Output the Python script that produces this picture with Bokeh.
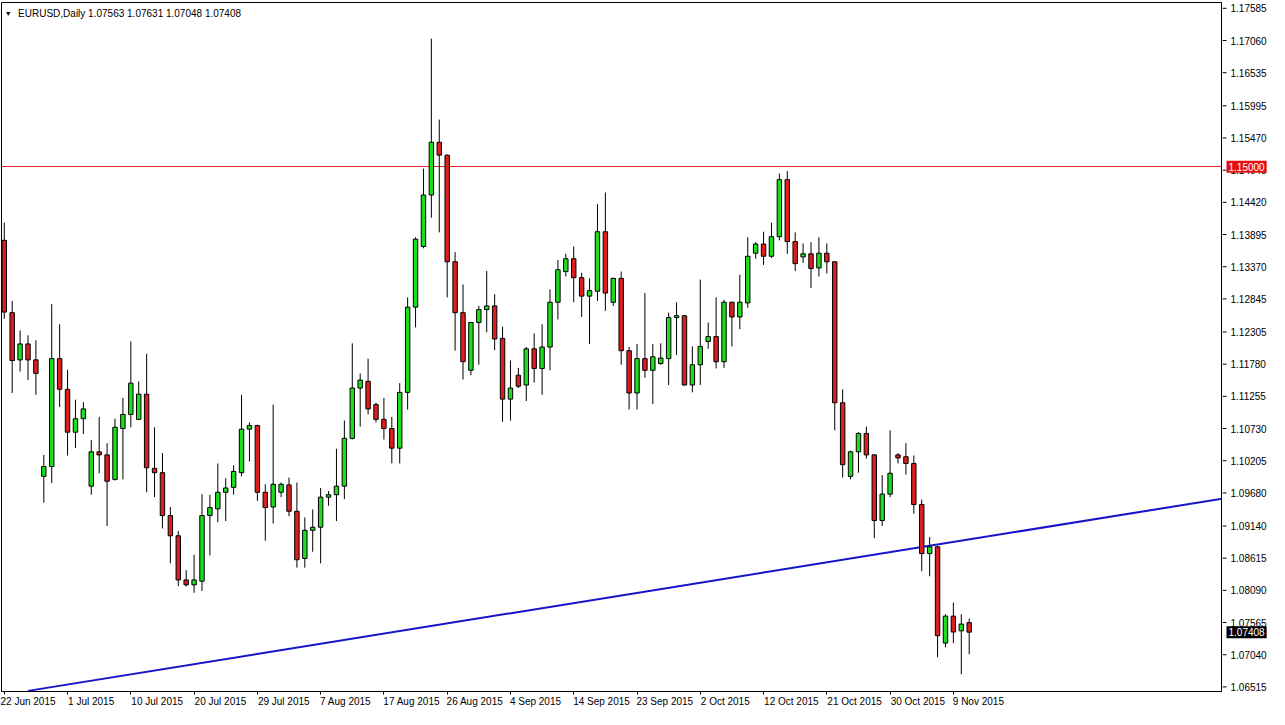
from bokeh.plotting import figure
from bokeh.layouts import row
from bokeh.models import Range1d, FixedTicker, Label
from bokeh.embed import file_html
from bokeh.resources import INLINE

# ---------------- data (EURUSD daily, 22 Jun 2015 - 11 Nov 2015, one bar per trading day incl. Sundays)
open_ = [1.1380, 1.1262, 1.1185, 1.1211, 1.1185, 1.0995, 1.1011, 1.1187, 1.1137, 1.1067,
         1.1089, 1.0979, 1.1035, 1.1030, 1.0990, 1.1073, 1.1096, 1.1088, 1.1129, 1.1008,
         1.1001, 1.0931, 1.0898, 1.0826, 1.0818, 1.0824, 1.0931, 1.0942, 1.0969, 1.0977,
         1.1001, 1.1072, 1.1078, 1.0969, 1.0945, 1.0969, 1.0981, 1.0938, 1.0861, 1.0907,
         1.0912, 1.0961, 1.0965, 1.0979, 1.1057, 1.1139, 1.1150, 1.1112, 1.1088, 1.1073,
         1.1041, 1.1132, 1.1271, 1.1370, 1.1454, 1.1540, 1.1519, 1.1345, 1.1262, 1.1168,
         1.1246, 1.1267, 1.1273, 1.1220, 1.1121, 1.1160, 1.1144, 1.1203, 1.1171, 1.1206,
         1.1279, 1.1329, 1.1350, 1.1319, 1.1289, 1.1297, 1.1394, 1.1279, 1.1318, 1.1200,
         1.1131, 1.1187, 1.1168, 1.1179, 1.1187, 1.1254, 1.1257, 1.1144, 1.1177, 1.1215,
         1.1223, 1.1182, 1.1279, 1.1255, 1.1278, 1.1359, 1.1374, 1.1354, 1.1386, 1.1479,
         1.1378, 1.1353, 1.1358, 1.1335, 1.1359, 1.1345, 1.1115, 1.0995, 1.1035, 1.1065,
         1.1030, 1.0923, 1.0966, 1.1030, 1.1027, 1.1016, 1.0949, 1.0869, 1.0880, 1.0723,
         1.0767, 1.0743, 1.07563]
high_ = [1.1409, 1.1281, 1.1233, 1.1225, 1.1217, 1.1030, 1.1276, 1.1243, 1.1169, 1.1120,
         1.1116, 1.1054, 1.1092, 1.1049, 1.1089, 1.1123, 1.1215, 1.1150, 1.1195, 1.1075,
         1.1033, 1.0945, 1.0906, 1.0842, 1.0867, 1.0966, 1.0965, 1.1016, 1.0992, 1.1013,
         1.1128, 1.1083, 1.1079, 1.0982, 1.1112, 1.0985, 1.0993, 1.0985, 1.0928, 1.0941,
         1.0976, 1.0971, 1.1040, 1.1086, 1.1212, 1.1163, 1.1187, 1.1115, 1.1123, 1.1092,
         1.1147, 1.1287, 1.1385, 1.1497, 1.1709, 1.1577, 1.1520, 1.1361, 1.1308, 1.1247,
         1.1273, 1.1330, 1.1292, 1.1239, 1.1184, 1.1172, 1.1206, 1.1228, 1.1243, 1.1300,
         1.1348, 1.1358, 1.1370, 1.1327, 1.1318, 1.1439, 1.1458, 1.1319, 1.1329, 1.1206,
         1.1211, 1.1294, 1.1211, 1.1212, 1.1262, 1.1279, 1.1258, 1.1207, 1.1316, 1.1246,
         1.1287, 1.1283, 1.1280, 1.1324, 1.1385, 1.1377, 1.1394, 1.1409, 1.1489, 1.1493,
         1.1393, 1.1375, 1.1377, 1.1385, 1.1375, 1.1346, 1.1137, 1.1037, 1.1067, 1.1076,
         1.1031, 1.0997, 1.1070, 1.1033, 1.1049, 1.1029, 1.0957, 1.0896, 1.0882, 1.0770,
         1.0789, 1.0770, 1.07631]
low_ = [1.1252, 1.1131, 1.1166, 1.1152, 1.1128, 1.0952, 1.0984, 1.1108, 1.1029, 1.1041,
        1.1064, 1.0965, 1.1000, 1.0914, 1.0988, 1.0990, 1.1075, 1.1087, 1.0969, 1.0961,
        1.0910, 1.0853, 1.0816, 1.0815, 1.0805, 1.0808, 1.0866, 1.0920, 1.0922, 1.0965,
        1.0995, 1.1019, 1.0955, 1.0890, 1.0918, 1.0961, 1.0930, 1.0846, 1.0846, 1.0872,
        1.0853, 1.0947, 1.0922, 1.0958, 1.1055, 1.1076, 1.1096, 1.1083, 1.1055, 1.1016,
        1.1016, 1.1104, 1.1238, 1.1367, 1.1417, 1.1393, 1.1287, 1.1200, 1.1153, 1.1160,
        1.1177, 1.1230, 1.1201, 1.1084, 1.1086, 1.1139, 1.1118, 1.1148, 1.1128, 1.1168,
        1.1251, 1.1321, 1.1279, 1.1255, 1.1211, 1.1281, 1.1265, 1.1273, 1.1177, 1.1104,
        1.1104, 1.1156, 1.1113, 1.1177, 1.1144, 1.1193, 1.1143, 1.1132, 1.1144, 1.1203,
        1.1171, 1.1172, 1.1207, 1.1235, 1.1270, 1.1350, 1.1340, 1.1351, 1.1380, 1.1358,
        1.1330, 1.1343, 1.1302, 1.1321, 1.1326, 1.1070, 1.0993, 1.0990, 1.1001, 1.1024,
        1.0894, 1.0914, 1.0961, 1.1016, 1.0998, 1.0934, 1.0840, 1.0832, 1.0700, 1.0716,
        1.0723, 1.0672, 1.07048]
close_ = [1.1263, 1.1184, 1.1211, 1.1185, 1.1163, 1.1011, 1.1187, 1.1137, 1.1067, 1.1089,
          1.1105, 1.1035, 1.1030, 1.0987, 1.1075, 1.1096, 1.1147, 1.1129, 1.1009, 1.1001,
          1.0931, 1.0898, 1.0826, 1.0818, 1.0826, 1.0931, 1.0944, 1.0969, 1.0976, 1.1003,
          1.1072, 1.1078, 1.0969, 1.0944, 1.0982, 1.0982, 1.0938, 1.0859, 1.0907, 1.0912,
          1.0961, 1.0965, 1.0979, 1.1057, 1.1139, 1.1152, 1.1105, 1.1088, 1.1073, 1.1041,
          1.1132, 1.1271, 1.1382, 1.1454, 1.1540, 1.1519, 1.1345, 1.1262, 1.1182, 1.1246,
          1.1267, 1.1273, 1.1219, 1.1121, 1.1139, 1.1142, 1.1203, 1.1171, 1.1206, 1.1279,
          1.1332, 1.1350, 1.1319, 1.1289, 1.1298, 1.1394, 1.1294, 1.1318, 1.1200, 1.1131,
          1.1187, 1.1168, 1.1190, 1.1188, 1.1254, 1.1257, 1.1144, 1.1177, 1.1207, 1.1223,
          1.1182, 1.1279, 1.1255, 1.1279, 1.1354, 1.1374, 1.1354, 1.1386, 1.1479, 1.1378,
          1.1342, 1.1358, 1.1334, 1.1359, 1.1345, 1.1115, 1.1014, 1.1035, 1.1065, 1.1030,
          1.0923, 1.0966, 1.1000, 1.1025, 1.1016, 1.0949, 1.0869, 1.0880, 1.0735, 1.0767,
          1.0741, 1.0754, 1.07408]

date_label_bars = [0, 8, 16, 24, 32, 40, 48, 56, 64, 72, 80, 88, 96, 104, 112, 120]
date_labels = ["22 Jun 2015", "1 Jul 2015", "10 Jul 2015", "20 Jul 2015", "29 Jul 2015",
               "7 Aug 2015", "17 Aug 2015", "26 Aug 2015", "4 Sep 2015", "14 Sep 2015",
               "23 Sep 2015", "2 Oct 2015", "12 Oct 2015", "21 Oct 2015", "30 Oct 2015",
               "9 Nov 2015"]
price_ticks = [1.17585, 1.17060, 1.16535, 1.15995, 1.15470, 1.14945, 1.14420, 1.13895,
               1.13370, 1.12845, 1.12305, 1.11780, 1.11255, 1.10730, 1.10205, 1.09680,
               1.09140, 1.08615, 1.08090, 1.07565, 1.07040, 1.06515]
resistance_level = 1.15000
trend_bars = [3.0, 160.0]
trend_prices = [1.0645, 1.0971]
title_text = "EURUSD,Daily  1.07563 1.07631 1.07048 1.07408"
last_price = 1.07408

# ---------------- styling
GREEN = "#1EDC1E"
RED = "#DC1E1E"
FONT = "Liberation Sans"
H = 709
MAIN_W = 1222
SCALE_W = 47
TOP_B, BOTTOM_B = 2, 18

X0, X1 = -0.35, 153.9
Y0, Y1 = 1.0644, 1.1768

# Arial/Liberation advance widths (em) used to left-align the date labels on their tick
CHAR_EM = {" ": 0.278, "J": 0.5, "u": 0.556, "n": 0.556, "l": 0.222, "A": 0.667, "g": 0.556,
           "S": 0.667, "e": 0.556, "p": 0.556, "O": 0.778, "c": 0.5, "t": 0.278, "N": 0.722,
           "o": 0.556, "v": 0.5}


def left_aligned(label, first):
    if first:  # the first label is pushed inside the canvas by Bokeh already
        return label
    width = sum(CHAR_EM.get(ch, 0.556) for ch in label)
    return "\u00a0" * int(round(width / 0.278)) + label


n = len(open_)
xs = list(range(n))
tops = [max(o, c) for o, c in zip(open_, close_)]
bots = [min(o, c) for o, c in zip(open_, close_)]
cols = [GREEN if c >= o else RED for o, c in zip(open_, close_)]

# ---------------- main chart
p = figure(width=MAIN_W, height=H, output_backend="svg", toolbar_location=None,
           x_range=Range1d(X0, X1), y_range=Range1d(Y0, Y1), y_axis_location=None,
           min_border_left=1, min_border_right=1, min_border_top=TOP_B,
           min_border_bottom=BOTTOM_B)
p.background_fill_color = "white"
p.border_fill_color = "white"
p.outline_line_color = "black"
p.outline_line_width = 1
p.grid.visible = False

xa = p.xaxis[0]
xa.ticker = FixedTicker(ticks=date_label_bars)
xa.major_label_overrides = {b: left_aligned(t, k == 0)
                            for k, (b, t) in enumerate(zip(date_label_bars, date_labels))}
xa.major_tick_out = 3
xa.major_tick_in = 0
xa.minor_tick_out = 0
xa.minor_tick_in = 0
xa.major_label_text_font = FONT
xa.major_label_text_font_size = "10px"
xa.major_label_text_color = "black"
xa.major_label_standoff = 1
xa.axis_line_color = "black"

p.hspan(y=[resistance_level], line_color="#E02828", line_width=1)
p.line(trend_bars, trend_prices, line_color="#1414C8", line_width=2)

p.segment(x0=xs, y0=low_, x1=xs, y1=high_, line_color="black", line_width=1)
p.vbar(x=xs, width=0.56, top=tops, bottom=bots, fill_color=cols, line_color="black", line_width=1)

px_per_price = (H - TOP_B - BOTTOM_B) / (Y1 - Y0)
p.add_layout(Label(x=0.05, y=Y1 - 11 / px_per_price, text="\u25BC", text_align="left",
                   text_baseline="middle", text_font=FONT, text_font_size="7px",
                   text_color="black"))
p.add_layout(Label(x=1.75, y=Y1 - 11 / px_per_price, text=title_text, text_align="left",
                   text_baseline="middle", text_font=FONT, text_font_size="10px",
                   text_color="black"))

# ---------------- price scale strip (shares the price range of the chart)
s = figure(width=SCALE_W, height=H, output_backend="svg", toolbar_location=None,
           x_range=Range1d(0, SCALE_W), y_range=p.y_range,
           x_axis_location=None, y_axis_location=None,
           min_border_left=0, min_border_right=0, min_border_top=TOP_B,
           min_border_bottom=BOTTOM_B)
s.background_fill_color = "white"
s.border_fill_color = "white"
s.outline_line_color = None
s.grid.visible = False

m = len(price_ticks)
s.segment(x0=[0] * m, y0=price_ticks, x1=[4] * m, y1=price_ticks, line_color="black", line_width=1)
s.text(x=[8] * m, y=price_ticks, text=["%.5f" % v for v in price_ticks],
       text_align="left", text_baseline="middle", text_font={"value": FONT},
       text_font_size="10px", text_color="black")
s.text(x=[4, 4], y=[resistance_level, last_price],
       text=["%.5f" % resistance_level, "%.5f" % last_price],
       text_align="left", text_baseline="middle", text_font={"value": FONT},
       text_font_size="10px", text_color="white",
       background_fill_color=["#E41010", "black"], padding=2)

open("out.html", "w").write(file_html(row(p, s), INLINE))
